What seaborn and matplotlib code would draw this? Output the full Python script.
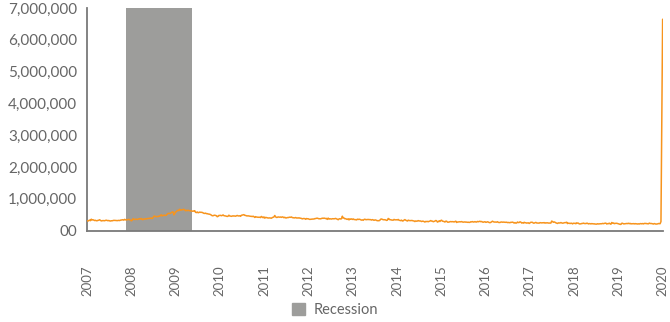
import numpy as np
import pandas as pd
import matplotlib
matplotlib.use("Agg")
import matplotlib.pyplot as plt
import matplotlib.dates as mdates
from matplotlib.patches import Patch
import seaborn as sns

# Weekly initial jobless claims (thousands), week ending Saturday
claims_2007 = [313, 298, 315, 330, 310, 357, 334, 339, 329, 315, 322, 310, 309, 320, 324, 339, 321, 303, 307, 314,
               310, 309, 319, 325, 319, 310, 316, 305, 300, 308, 307, 314, 321, 320, 319, 316, 312, 316, 320, 314,
               327, 331, 333, 340, 328, 352, 338, 334, 341, 343, 351, 341]
claims_2008 = [330, 306, 323, 372, 356, 347, 355, 360, 348, 356, 367, 373, 368, 378, 350, 342, 366, 360, 369, 366,
               372, 384, 376, 386, 389, 391, 378, 404, 448, 455, 442, 436, 444, 436, 454, 451, 481, 493, 458, 476,
               479, 484, 475, 480, 516, 533, 545, 536, 541, 568, 580, 590]
claims_2009 = [492, 528, 589, 593, 628, 635, 628, 670, 640, 652, 651, 662, 667, 648, 622, 640, 624, 638, 631, 625,
               616, 621, 611, 607, 618, 624, 575, 564, 585, 560, 568, 580, 574, 574, 570, 555, 543, 539, 548, 532,
               532, 522, 519, 513, 502, 483, 467, 466, 478, 483, 474, 467]
claims_2010 = [436, 446, 477, 474, 479, 467, 475, 492, 468, 465, 459, 450, 444, 451, 483, 458, 455, 448, 455, 463,
               456, 459, 451, 462, 475, 462, 459, 465, 449, 480, 487, 495, 500, 479, 476, 464, 460, 463, 458, 456,
               448, 447, 440, 451, 437, 413, 437, 426, 423, 416, 421, 417]
claims_2011 = [409, 443, 422, 404, 430, 391, 414, 409, 400, 394, 396, 398, 394, 388, 408, 419, 428, 474, 432, 413,
               415, 428, 423, 420, 427, 414, 430, 423, 404, 418, 398, 398, 409, 407, 416, 421, 417, 428, 408, 403,
               400, 399, 410, 395, 397, 393, 401, 391, 388, 381, 366, 378, 376]
claims_2012 = [376, 355, 378, 371, 371, 359, 351, 353, 358, 362, 363, 363, 375, 377, 386, 389, 378, 370, 372, 369,
               378, 389, 383, 392, 383, 377, 382, 351, 392, 360, 371, 366, 362, 372, 371, 370, 374, 382, 367, 358,
               340, 366, 372, 364, 371, 451, 396, 395, 370, 375, 358, 351]
claims_2013 = [371, 335, 368, 356, 368, 350, 366, 346, 347, 340, 335, 358, 348, 357, 352, 341, 327, 338, 323, 348,
               357, 344, 343, 346, 350, 344, 346, 342, 330, 344, 335, 322, 333, 333, 319, 310, 312, 309, 325, 358,
               363, 351, 341, 340, 340, 334, 319, 326, 380, 365, 340, 341]
claims_2014 = [331, 330, 326, 350, 336, 339, 339, 334, 349, 323, 320, 311, 327, 301, 306, 329, 344, 325, 311, 300,
               327, 314, 315, 312, 317, 314, 304, 302, 284, 303, 294, 299, 314, 299, 304, 298, 284, 295, 293, 283,
               268, 287, 283, 287, 278, 290, 297, 314, 297, 296, 278, 287]
claims_2015 = [297, 316, 308, 267, 279, 304, 284, 316, 325, 296, 289, 284, 268, 294, 295, 265, 264, 268, 278, 282,
               277, 280, 278, 271, 282, 294, 255, 267, 270, 272, 277, 273, 282, 270, 264, 267, 272, 264, 266, 259,
               263, 256, 260, 276, 272, 282, 268, 271, 281, 270, 268, 287]
claims_2016 = [276, 284, 293, 278, 285, 269, 262, 272, 278, 259, 265, 276, 267, 253, 248, 257, 274, 294, 278, 268,
               268, 267, 264, 277, 258, 253, 254, 266, 269, 262, 266, 262, 261, 259, 262, 251, 254, 249, 247, 260,
               258, 265, 254, 235, 251, 233, 239, 268, 251, 254, 275, 265, 237]
claims_2017 = [247, 234, 259, 246, 246, 234, 239, 244, 223, 243, 261, 258, 258, 234, 234, 244, 257, 238, 236, 232,
               234, 248, 245, 241, 245, 244, 250, 233, 245, 240, 244, 236, 235, 232, 236, 298, 284, 260, 272, 260,
               243, 233, 223, 241, 239, 238, 252, 240, 232, 236, 245, 250]
claims_2018 = [250, 261, 220, 233, 230, 221, 230, 229, 210, 231, 226, 229, 215, 242, 233, 233, 209, 210, 211, 222,
               223, 234, 221, 223, 218, 231, 228, 208, 218, 217, 209, 218, 213, 210, 212, 203, 205, 201, 214, 207,
               210, 216, 215, 214, 224, 217, 224, 231, 233, 206, 217, 216]
claims_2019 = [232, 213, 199, 253, 234, 239, 216, 225, 226, 229, 221, 211, 202, 196, 193, 230, 228, 212, 211, 215,
               218, 222, 219, 229, 216, 226, 209, 216, 214, 218, 209, 219, 210, 213, 205, 212, 206, 217, 218, 212,
               220, 209, 224, 222, 224, 217, 216, 212, 234, 223, 222, 220]
claims_2020 = [214, 205, 220, 212, 203, 205, 210, 220, 219, 216, 282, 3307, 6648]

year_labels = ["2007", "2008", "2009", "2010", "2011", "2012", "2013",
               "2014", "2015", "2016", "2017", "2018", "2019", "2020"]
recession_start = "2007-12-01"
recession_end = "2009-06-01"

weekly = (claims_2007 + claims_2008 + claims_2009 + claims_2010 + claims_2011 + claims_2012 + claims_2013
          + claims_2014 + claims_2015 + claims_2016 + claims_2017 + claims_2018 + claims_2019 + claims_2020)
df = pd.DataFrame({
    "week": pd.date_range("2007-01-06", periods=len(weekly), freq="W-SAT"),
    "claims": np.array(weekly) * 1000,
})

sns.set_theme(style="white")
plt.rcParams["font.family"] = ["Lato", "DejaVu Sans"]

fig = plt.figure(figsize=(6.7, 3.22), dpi=100)
ax = fig.add_axes([0.13, 0.284, 0.859, 0.691])

line_color = "#F7941D"
band_color = "#9D9D9B"
text_color = "#666666"

ax.axvspan(pd.Timestamp(recession_start), pd.Timestamp(recession_end),
           color=band_color, lw=0, zorder=1)
sns.lineplot(data=df, x="week", y="claims", color=line_color, lw=1.1, ax=ax, zorder=3)

x0, x1 = df["week"].iloc[0], df["week"].iloc[-1]
ax.set_xlim(x0, x1)
ax.set_ylim(0, 7_000_000)

tick_pos = np.linspace(mdates.date2num(x0), mdates.date2num(x1), len(year_labels))
ax.set_xticks(tick_pos)
ax.set_xticklabels(year_labels, rotation=90, color=text_color, fontsize=9.5)
ax.set_yticks(np.arange(0, 7_000_001, 1_000_000))
ax.yaxis.set_major_formatter(plt.FuncFormatter(lambda v, p: "00" if v == 0 else f"{v:,.0f}"))
ax.tick_params(axis="y", labelsize=11, labelcolor=text_color, length=0, pad=7)
ax.tick_params(axis="x", length=0, pad=25)

for side in ("top", "right"):
    ax.spines[side].set_visible(False)
for side in ("left", "bottom"):
    ax.spines[side].set_color("#7a7a7a")
    ax.spines[side].set_linewidth(1.3)
ax.set_xlabel("")
ax.set_ylabel("")

fig.legend(handles=[Patch(color=band_color, label="Recession")],
           loc="center", bbox_to_anchor=(0.5, 0.037), frameon=False,
           fontsize=10.5, labelcolor=text_color, handlelength=0.9, handleheight=0.9,
           handletextpad=0.6)

fig.savefig("out.png", dpi=100)
